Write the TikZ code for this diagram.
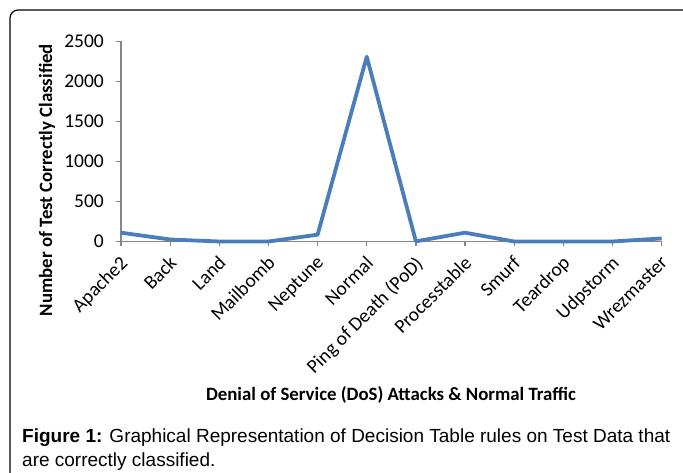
\documentclass[tikz,border=0pt]{standalone}
\usepackage{fontspec}
\setmainfont{Carlito}
\newfontfamily\capfont{Liberation Sans}
\usetikzlibrary{positioning}

\definecolor{lineblue}{RGB}{74,126,187}
\definecolor{axisgray}{RGB}{134,134,134}

\begin{document}
\begin{tikzpicture}[x = 1pt, y = -1pt]
	\tikzstyle{axisStyle} = [draw = axisgray, line width = 1.2pt]
	\tikzstyle{tickLabel} = [font = \fontsize{19.5}{22}\selectfont, inner sep = 0pt]
	\tikzstyle{catLabel} = [font = \fontsize{19.5}{22}\selectfont, inner sep = 0pt, rotate = 45, anchor = north east]
	\tikzstyle{titleStyle} = [font = \fontsize{18.8}{22}\selectfont\bfseries]
	\tikzstyle{captionStyle} = [font = \capfont\fontsize{19}{24}\selectfont, anchor = base west, inner sep = 0pt]
	\tikzstyle{dataStyle} = [draw = lineblue, line width = 3.8pt, line join = round]
	\useasboundingbox (0,0) rectangle (683,473);
	% frame
	\draw[line width = 1.2pt, rounded corners = 8pt] (690,10) -- (10,10) -- (10,480);
	% axes
	\coordinate (origin) at (121,241.5);
	\coordinate (ytop) at (121,41.5);
	\coordinate (xend) at (661.7,241.5);
	\draw[axisStyle] (ytop) -- (origin) -- (xend);
	% y ticks
	\foreach \v/\name in {0/y0, 500/y1, 1000/y2, 1500/y3, 2000/y4, 2500/y5} {
		\coordinate (\name) at (121, 241.5 - 0.08*\v);
		\draw[axisStyle] (\name) -- ++(-5,0) coordinate (\name t);
		\node[tickLabel, left = 12pt of \name t] (\name lab) {\v};
	}
	% x ticks and categories
	\foreach \i/\cat in {0/Apache2, 1/Back, 2/Land, 3/Mailbomb, 4/Neptune, 5/Normal,
		6/Ping of Death (PoD), 7/Processtable, 8/Smurf, 9/Teardrop, 10/Udpstorm, 11/Wrezmaster} {
		\coordinate (x\i) at (121 + 49.15*\i, 241.5);
		\draw[axisStyle] (x\i) -- ++(0,5) coordinate (xt\i);
		\node[catLabel, below left = 8pt and 2pt of xt\i, anchor = north east] (cat\i) {\cat};
	}
	% data points
	\foreach \i/\v in {0/110, 1/25, 2/0, 3/0, 4/85, 5/2310, 6/2, 7/110, 8/0, 9/0, 10/0, 11/38}
		\coordinate (p\i) at (121 + 49.15*\i, 241.5 - 0.08*\v);
	\draw[dataStyle] (p0) -- (p1) -- (p2) -- (p3) -- (p4) -- (p5) -- (p6) -- (p7) -- (p8) -- (p9) -- (p10) -- (p11);
	% titles
	\node[titleStyle, rotate = 90] (ytitle) at (47,180) {Number of Test Correctly Classified};
	\node[titleStyle] (xtitle) at (391,395) {Denial of Service (DoS) Attacks \& Normal Traffic};
	% caption
	\node[captionStyle] (caption1) at (22,442) {\textbf{Figure 1:} Graphical Representation of Decision Table rules on Test Data that};
	\node[captionStyle, below = 24pt of caption1.base west, anchor = base west] (caption2) {are correctly classified.};
\end{tikzpicture}
\end{document}
